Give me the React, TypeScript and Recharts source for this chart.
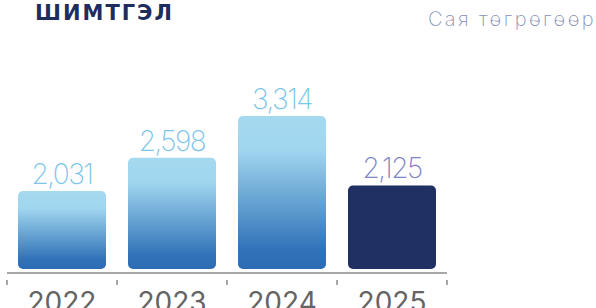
import { BarChart, Bar, XAxis, YAxis, Cell, LabelList } from 'recharts';

const years = ['2022', '2023', '2024', '2025'];
const values = [2031, 2598, 3314, 2125];
const fills = ['url(#barGrad)', 'url(#barGrad)', 'url(#barGrad)', '#213062'];
const labelColors = ['#7cc5ea', '#7cc5ea', '#7cc5ea', '#7d83c4'];

const data = years.map((year, i) => ({ year, value: values[i] }));

const BarShape = (props: any) => {
  const { x, y, width, height, fill } = props;
  const h = Math.max(height - 4, 0);
  return <rect x={x} y={y} width={width} height={h} rx={5} ry={5} fill={fill} />;
};

const YearTick = (props: any) => {
  const { x, y, payload, index, visibleTicksCount, width } = props;
  const half = width && visibleTicksCount ? width / visibleTicksCount / 2 : payload?.offset ?? 55;
  return (
    <g>
      <line x1={x - half} y1={y - 1} x2={x - half} y2={y + 4} stroke="#8a8a8a" strokeWidth={1.5} />
      {index === visibleTicksCount - 1 && (
        <line x1={x + half} y1={y - 1} x2={x + half} y2={y + 4} stroke="#8a8a8a" strokeWidth={1.5} />
      )}
      <text x={x} y={y + 31} textAnchor="middle" fill="#646464" fontSize={28} fontFamily="Inter, sans-serif">
        {payload.value}
      </text>
    </g>
  );
};

const ValueLabel = (props: any) => {
  const { x, y, width, value, index } = props;
  return (
    <text
      x={x + width / 2}
      y={y - 7}
      textAnchor="middle"
      fill={labelColors[index]}
      fontSize={28}
      fontWeight={200}
      letterSpacing={-1.5}
      fontFamily="Inter, sans-serif"
    >
      {Number(value).toLocaleString('en-US')}
    </text>
  );
};

export default function App() {
  return (
    <div style={{ position: 'absolute', left: 0, top: 0, width: 596, height: 308, background: '#fff' }}>
      <svg width={596} height={40} style={{ position: 'absolute', left: 0, top: 0 }}>
        <text x={35} y={20} fontSize={21} fontWeight={800} letterSpacing={2} fill="#1f2d5e" fontFamily='"DejaVu Sans", sans-serif'>
          ШИМТГЭЛ
        </text>
        <text x={596} y={26} textAnchor="end" fontSize={20} fontWeight={200} letterSpacing={2.4} fill="#8890b8" fontFamily="Inter, sans-serif">
          Сая төгрөгөөр
        </text>
      </svg>
      <BarChart width={596} height={308} data={data} margin={{ top: 60, right: 149, left: 7, bottom: 0 }} barSize={88}>
        <defs>
          <linearGradient id="barGrad" x1="0" y1="0" x2="0" y2="1">
            <stop offset="0" stopColor="#a4d9f0" />
            <stop offset="0.22" stopColor="#a0d6ef" />
            <stop offset="0.88" stopColor="#3072b8" />
            <stop offset="1" stopColor="#2d6cb5" />
          </linearGradient>
        </defs>
        <XAxis
          dataKey="year"
          height={35}
          axisLine={{ stroke: '#8a8a8a', strokeWidth: 1.5 }}
          tickLine={false}
          tick={<YearTick />}
          interval={0}
        />
        <YAxis hide domain={[628, 4272]} allowDataOverflow />
        <Bar dataKey="value" shape={<BarShape />} isAnimationActive={false}>
          {data.map((d, i) => (
            <Cell key={d.year} fill={fills[i]} />
          ))}
          <LabelList dataKey="value" content={<ValueLabel />} />
        </Bar>
      </BarChart>
    </div>
  );
}
